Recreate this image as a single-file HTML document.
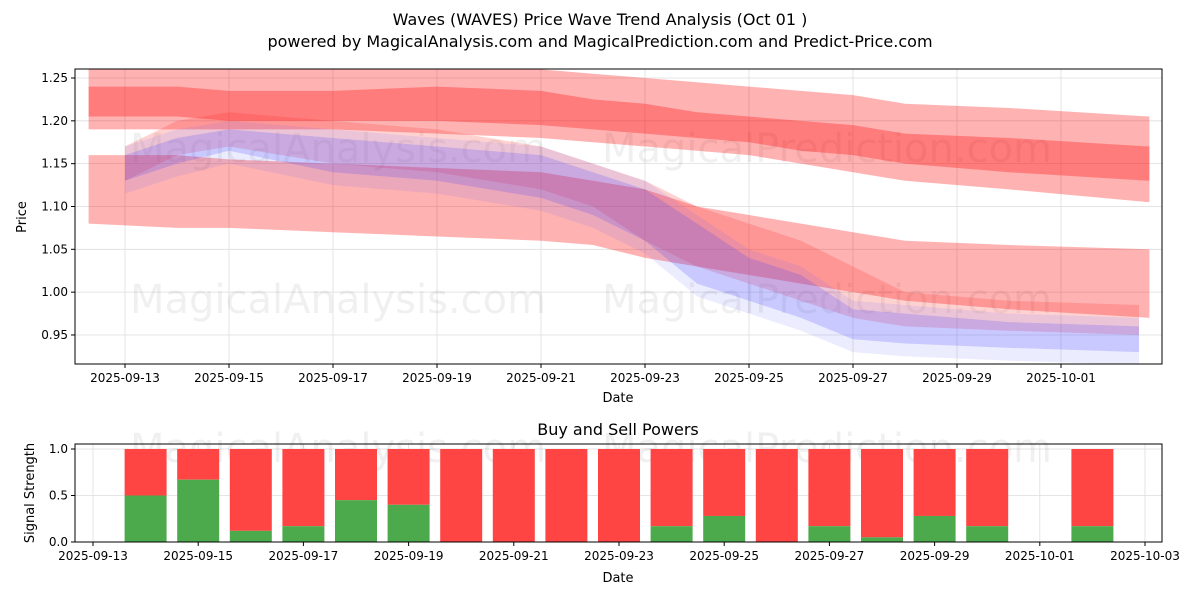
<!DOCTYPE html>
<html><head><meta charset="utf-8"><style>
body{margin:0;background:#fff;font-family:"Liberation Sans","DejaVu Sans",sans-serif}
svg text{font-family:"DejaVu Sans","Liberation Sans",sans-serif}
</style></head><body>
<svg id="c" width="1200" height="600" xmlns="http://www.w3.org/2000/svg">
<rect width="1200" height="600" fill="#fff"/>
<text x="600" y="25" text-anchor="middle" font-size="16">Waves (WAVES) Price Wave Trend Analysis (Oct 01 )</text>
<text x="600" y="47" text-anchor="middle" font-size="16">powered by MagicalAnalysis.com and MagicalPrediction.com and Predict-Price.com</text>
<g id="topg"></g><g id="botg"></g>
</svg>
<script>
const NS='http://www.w3.org/2000/svg';
// ---- data ----
const redDays=[-0.7,1,2,4,6,8,9,10,11,12,13,14,15,17,19.7];
const redTopUpper=[1.26,1.26,1.26,1.26,1.26,1.26,1.255,1.25,1.245,1.24,1.235,1.23,1.22,1.215,1.205];
const redTopLower=[1.19,1.19,1.19,1.19,1.185,1.18,1.175,1.17,1.165,1.16,1.15,1.14,1.13,1.12,1.105];
const redCoreUpper=[1.24,1.24,1.235,1.235,1.24,1.235,1.225,1.22,1.21,1.205,1.2,1.195,1.185,1.18,1.17];
const redCoreLower=[1.205,1.205,1.2,1.2,1.2,1.195,1.19,1.185,1.18,1.175,1.165,1.16,1.15,1.14,1.13];
const redLowUpper=[1.16,1.16,1.155,1.15,1.145,1.14,1.13,1.12,1.10,1.09,1.08,1.07,1.06,1.055,1.05];
const redLowLower=[1.08,1.075,1.075,1.07,1.065,1.06,1.055,1.04,1.03,1.02,1.01,1.0,0.99,0.98,0.97];
const waveDays=[0,1,2,4,6,8,9,10,11,12,13,14,15,17,19.5];
const redMidUpper=[1.17,1.2,1.21,1.2,1.19,1.17,1.15,1.13,1.1,1.08,1.06,1.03,1.0,0.99,0.985];
const redMidLower=[1.13,1.16,1.17,1.15,1.14,1.12,1.1,1.06,1.03,1.01,0.99,0.97,0.96,0.955,0.95];
const blueUpper=[1.16,1.18,1.19,1.18,1.17,1.16,1.14,1.12,1.08,1.04,1.02,0.98,0.975,0.965,0.96];
const blueLower=[1.13,1.15,1.165,1.14,1.13,1.11,1.09,1.06,1.01,0.99,0.97,0.945,0.94,0.935,0.93];
const yTicks=[0.95,1.00,1.05,1.10,1.15,1.20,1.25];
const topXTicks=['2025-09-13','2025-09-15','2025-09-17','2025-09-19','2025-09-21','2025-09-23','2025-09-25','2025-09-27','2025-09-29','2025-10-01'];
const barDays=[1,2,3,4,5,6,7,8,9,10,11,12,13,14,15,16,17,19];
const buyPower=[0.5,0.67,0.12,0.17,0.45,0.4,0,0,0,0,0.17,0.28,0,0.17,0.05,0.28,0.17,0.17];
const botYTicks=[0,0.5,1.0];
const botXTicks=['2025-09-13','2025-09-15','2025-09-17','2025-09-19','2025-09-21','2025-09-23','2025-09-25','2025-09-27','2025-09-29','2025-10-01','2025-10-03'];
// ---- helpers ----
function mk(tag,attrs,parent,txt){const e=document.createElementNS(NS,tag);for(const k in attrs)e.setAttribute(k,attrs[k]);if(txt!==undefined)e.textContent=txt;parent.appendChild(e);return e;}
const topG=document.getElementById('topg'),botG=document.getElementById('botg');
const L=75,R=1162,T=69,B=364;
const xT=d=>125+d*52, yT=v=>78+(1.25-v)/0.05*42.83;
const BT=444,BB=542;
const xB=d=>93+d*52.6, yB=v=>BB-v*93;
function dayOf(s){return Math.round((new Date(s)-new Date('2025-09-13'))/864e5);}
const cp=mk('clipPath',{id:'cl'},topG);mk('rect',{x:L,y:T,width:R-L,height:B-T},cp);
yTicks.forEach(v=>{const y=yT(v);const g=mk('line',{x1:L,x2:R,y1:y,y2:y,stroke:'#ddd','stroke-width':0.8},topG);


mk('line',{x1:L-4,x2:L,y1:y,y2:y,stroke:'#000'},topG);
const t=mk('text',{x:L-7,y:y+4,'text-anchor':'end','font-size':12},topG,v.toFixed(2));

});
topXTicks.forEach(s=>{const x=xT(dayOf(s));mk('line',{x1:x,x2:x,y1:T,y2:B,stroke:'#ddd','stroke-width':0.8},topG);mk('line',{x1:x,x2:x,y1:B,y2:B+4,stroke:'#000'},topG);
const t=mk('text',{x:x,y:B+18,'text-anchor':'middle','font-size':12},topG,s);

});
const wm=mk('g',{fill:'#000','fill-opacity':0.06,'font-size':40},topG);
mk('text',{x:130,y:162},wm,'MagicalAnalysis.com');mk('text',{x:602,y:162},wm,'MagicalPrediction.com');
mk('text',{x:130,y:313},wm,'MagicalAnalysis.com');mk('text',{x:602,y:313},wm,'MagicalPrediction.com');
const bands=mk('g',{'clip-path':'url(#cl)'},topG);
function band(days,up,lo,color,op,name){let p=days.map((d,i)=>xT(d)+','+yT(up[i]));for(let i=days.length-1;i>=0;i--)p.push(xT(days[i])+','+yT(lo[i]));
const e=mk('polygon',{points:p.join(' '),fill:color,'fill-opacity':op},bands);

}
band(redDays,redTopUpper,redTopLower,'#ff0000',0.3,'red-upper-band');
band(redDays,redCoreUpper,redCoreLower,'#ff0000',0.3,'red-upper-core');
band(redDays,redLowUpper,redLowLower,'#ff0000',0.3,'red-lower-band');
band(waveDays,redMidUpper,redMidLower,'#ff3030',0.22,'red-wave-band');
band(waveDays,blueUpper.map(v=>v+0.01),blueLower.map(v=>v-0.015),'#6060ff',0.12,'blue-wave-outer');
band(waveDays,blueUpper,blueLower,'#4040ff',0.2,'blue-wave-band');
mk('rect',{x:L,y:T,width:R-L,height:B-T,fill:'none',stroke:'#000','stroke-width':1},topG);
const xt=mk('text',{x:618,y:402,'text-anchor':'middle','font-size':13},topG,'Date');

const yt=mk('text',{x:26,y:217,'text-anchor':'middle','font-size':13,transform:'rotate(-90 26 217)'},topG,'Price');

const bt=mk('text',{x:618,y:435,'text-anchor':'middle','font-size':16},botG,'Buy and Sell Powers');

botYTicks.forEach(v=>{const y=yB(v);mk('line',{x1:L,x2:R,y1:y,y2:y,stroke:'#ddd','stroke-width':0.8},botG);mk('line',{x1:L-4,x2:L,y1:y,y2:y,stroke:'#000'},botG);
const t=mk('text',{x:L-7,y:y+4,'text-anchor':'end','font-size':12},botG,v.toFixed(1));

});
botXTicks.forEach(s=>{const x=xB(dayOf(s));mk('line',{x1:x,x2:x,y1:BT,y2:BB,stroke:'#ddd','stroke-width':0.8},botG);mk('line',{x1:x,x2:x,y1:BB,y2:BB+4,stroke:'#000'},botG);
const t=mk('text',{x:x,y:BB+18,'text-anchor':'middle','font-size':12},botG,s);

});
const wm2=mk('g',{fill:'#000','fill-opacity':0.06,'font-size':40},botG);
mk('text',{x:130,y:462},wm2,'MagicalAnalysis.com');mk('text',{x:602,y:462},wm2,'MagicalPrediction.com');
barDays.forEach((d,i)=>{const x=xB(d)-21,g=buyPower[i];
const r=mk('rect',{x:x,y:yB(1),width:42,height:yB(g)-yB(1),fill:'#ff4444'},botG);


const b=mk('rect',{x:x,y:yB(g),width:42,height:yB(0)-yB(g),fill:'#4caa4c'},botG);

});
mk('rect',{x:L,y:BT,width:R-L,height:BB-BT,fill:'none',stroke:'#000'},botG);
const bx=mk('text',{x:618,y:582,'text-anchor':'middle','font-size':13},botG,'Date');

const by=mk('text',{x:34,y:493,'text-anchor':'middle','font-size':13,transform:'rotate(-90 34 493)'},botG,'Signal Strength');

</script>
</body></html>
